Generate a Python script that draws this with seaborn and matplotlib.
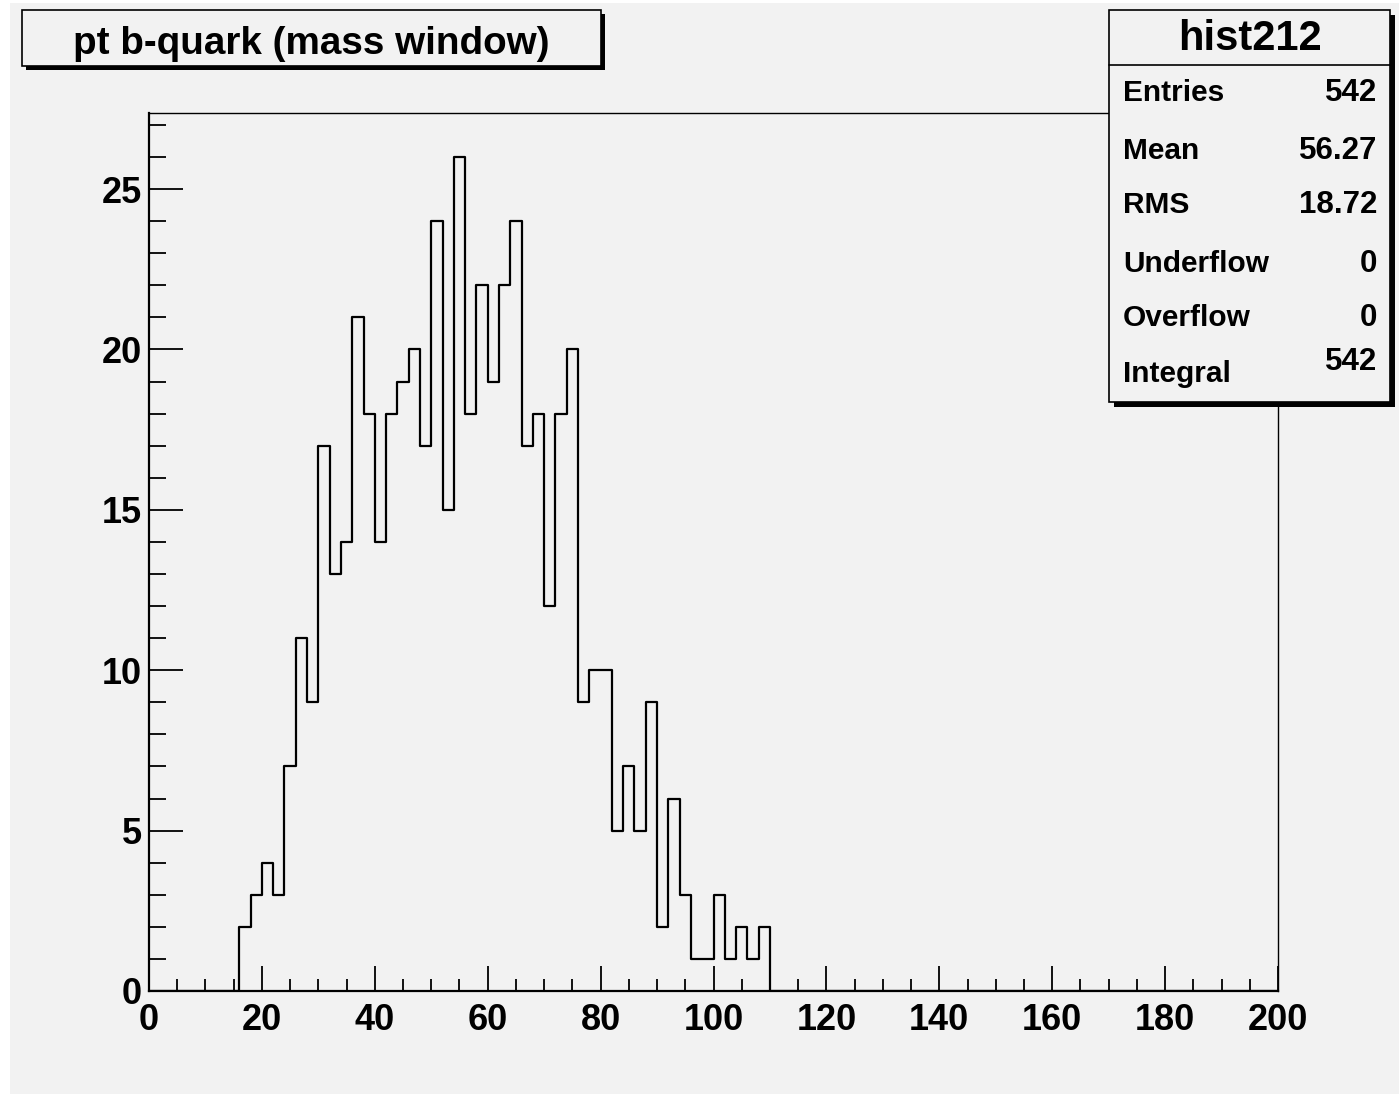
import numpy as np
import pandas as pd
import matplotlib
matplotlib.use("Agg")
import matplotlib.pyplot as plt
from matplotlib.patches import Rectangle
from matplotlib.ticker import MultipleLocator
import seaborn as sns

# histogram content: lower edge of each 2 GeV bin and its count
bin_lows = [16, 18, 20, 22, 24, 26, 28, 30, 32, 34, 36, 38, 40, 42, 44, 46,
            48, 50, 52, 54, 56, 58, 60, 62, 64, 66, 68, 70, 72, 74, 76, 78,
            80, 82, 84, 86, 88, 90, 92, 94, 96, 98, 100, 102, 104, 106, 108]
counts = [2, 3, 4, 3, 7, 11, 9, 17, 13, 14, 21, 18, 14, 18, 19, 20,
          17, 24, 15, 26, 18, 22, 19, 22, 24, 17, 18, 12, 18, 20, 9, 10,
          10, 5, 7, 5, 9, 2, 6, 3, 1, 1, 3, 1, 2, 1, 2]
x_ticks = [0, 20, 40, 60, 80, 100, 120, 140, 160, 180, 200]
y_ticks = [0, 5, 10, 15, 20, 25]

title = "pt b-quark (mass window)"
hist_name = "hist212"
stat_names = ["Entries", "Mean", "RMS", "Underflow", "Overflow", "Integral"]
stat_values = ["542", "56.27", "18.72", "0", "0", "542"]

W, H = 1399, 1094
bg = "#f2f2f2"
font = "Liberation Sans"

sns.set_style("ticks")
plt.rcParams["font.family"] = [font, "DejaVu Sans"]
plt.rcParams["font.weight"] = "bold"
plt.rcParams["text.color"] = "black"
plt.rcParams["xtick.color"] = "black"
plt.rcParams["ytick.color"] = "black"
plt.rcParams["axes.edgecolor"] = "black"

fig = plt.figure(figsize=(W / 100, H / 100), dpi=100)
fig.patch.set_facecolor("white")


def fx(px):
    return px / W


def fy(py):
    return 1 - py / H


# gray canvas (thin white margin on the left and top)
fig.add_artist(Rectangle((fx(10), 0), 1 - fx(10), fy(3), transform=fig.transFigure,
                         facecolor=bg, edgecolor="none", zorder=0))

ax = fig.add_axes([fx(149), fy(991), fx(1278) - fx(149), fy(113) - fy(991)])
ax.set_facecolor(bg)

df = pd.DataFrame({"pt": [b + 1 for b in bin_lows], "n": counts})
sns.histplot(data=df, x="pt", weights="n", binwidth=2, binrange=(0, 200),
             element="step", fill=False, color="black", linewidth=1.6, ax=ax)

ax.set_xlim(0, 200)
ax.set_ylim(0, 27.37)
ax.set_xlabel("")
ax.set_ylabel("")
ax.set_xticks(x_ticks)
ax.set_yticks(y_ticks)
ax.xaxis.set_minor_locator(MultipleLocator(5))
ax.yaxis.set_minor_locator(MultipleLocator(1))
ax.tick_params(axis="x", which="major", direction="in", length=18, width=1.3,
               labelsize=26, pad=9, colors="black")
ax.tick_params(axis="x", which="minor", direction="in", length=8.6, width=1.3,
               colors="black")
ax.tick_params(axis="y", which="major", direction="in", length=24.5, width=1.3,
               labelsize=26, pad=5, colors="black")
ax.tick_params(axis="y", which="minor", direction="in", length=12.2, width=1.3,
               colors="black")
for lab in ax.get_xticklabels() + ax.get_yticklabels():
    lab.set_fontweight("bold")

for side in ["left", "bottom"]:
    ax.spines[side].set_linewidth(1.6)
for side in ["top", "right"]:
    ax.spines[side].set_linewidth(1.0)
for s in ax.spines.values():
    s.set_color("black")


def shadow_box(x0, y0, x1, y1, off=4):
    fig.add_artist(Rectangle((fx(x0 + off), fy(y1 + off)), fx(x1 - x0), fy(y0) - fy(y1),
                             transform=fig.transFigure, facecolor="black",
                             edgecolor="none", zorder=5))
    fig.add_artist(Rectangle((fx(x0), fy(y1)), fx(x1 - x0), fy(y0) - fy(y1),
                             transform=fig.transFigure, facecolor=bg,
                             edgecolor="black", linewidth=1.2, zorder=6))


# title box
shadow_box(22, 10, 601, 66)
fig.text(fx(311), fy(54), title, ha="center", va="baseline", fontsize=27.8,
         fontweight="bold", color="black", zorder=7)

# stats box
shadow_box(1109, 10, 1390, 402, off=5)
fig.add_artist(plt.Line2D([fx(1109), fx(1390)], [fy(65), fy(65)],
                          transform=fig.transFigure, color="black", linewidth=1.2, zorder=7))
fig.text(fx(1250), fy(50), hist_name, ha="center", va="baseline", fontsize=30,
         fontweight="bold", color="black", zorder=7)
label_base = [101, 159, 213, 272, 326, 382]
value_base = [101, 159, 213, 272, 326, 370]
for name, val, yl, yv in zip(stat_names, stat_values, label_base, value_base):
    fig.text(fx(1123), fy(yl), name, ha="left", va="baseline", fontsize=21.5,
             fontweight="bold", color="black", zorder=7)
    fig.text(fx(1377), fy(yv), val, ha="right", va="baseline", fontsize=22.5,
             fontweight="bold", color="black", zorder=7)

fig.savefig("out.png", dpi=100, facecolor=fig.get_facecolor())
